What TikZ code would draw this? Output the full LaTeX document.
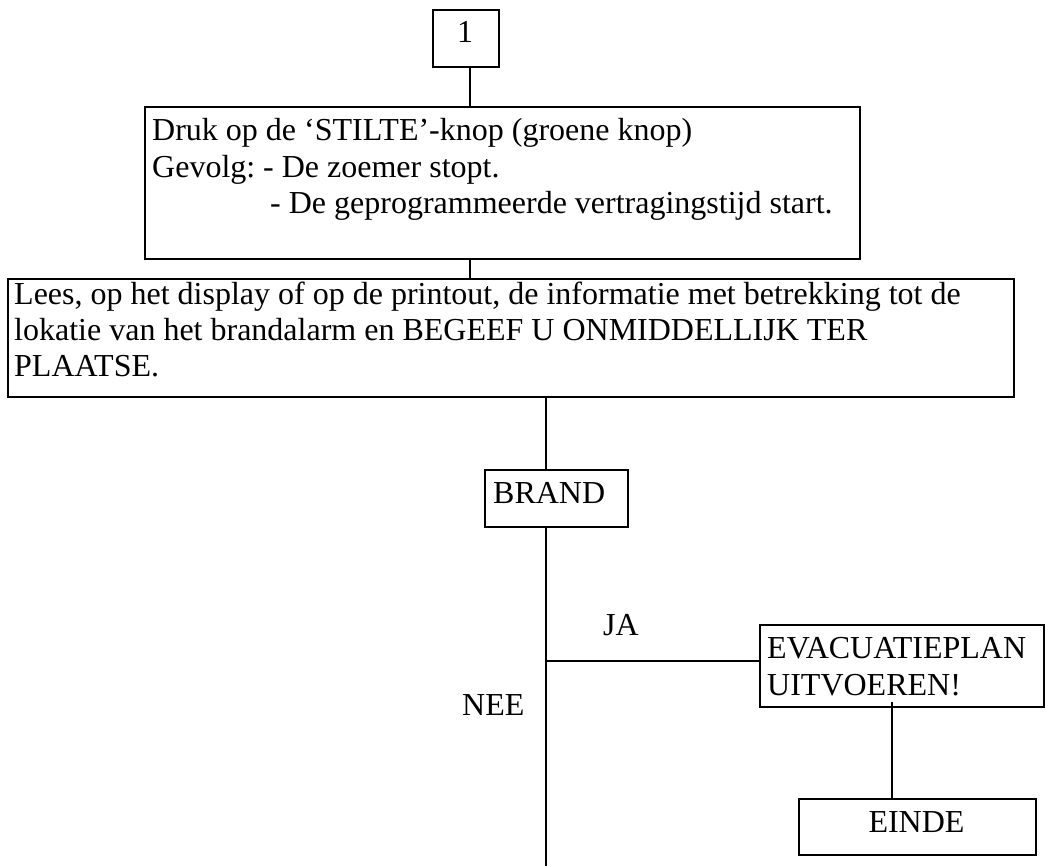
\documentclass[tikz,border=0pt]{standalone}
\usepackage{fontspec}
\setmainfont{Liberation Serif}
\tikzset{
  box/.style={draw, line width=1.8pt, rectangle, inner sep=0pt, anchor=north west},
  conn/.style={line width=1.4pt},
  txt/.style={anchor=base west, inner sep=0pt, font=\fontsize{32}{37}\selectfont},
}
\begin{document}
\begin{tikzpicture}[x=1pt,y=-1pt]
\useasboundingbox[fill=white] (0,0) rectangle (1045,866);
% boxes
\node[box, minimum width=66pt, minimum height=57pt] (b1) at (432,9) {};
\node[box, minimum width=715pt, minimum height=152pt] (b2) at (144,106) {};
\node[box, minimum width=1006pt, minimum height=118pt] (b3) at (7,278) {};
\node[box, minimum width=143pt, minimum height=57pt] (br) at (484,469) {};
\node[box, minimum width=284pt, minimum height=82pt] (ev) at (759,624) {};
\node[box, minimum width=237pt, minimum height=56pt] (ei) at (798,798) {};
% texts
\node[txt, anchor=base] (t1) at (465,43) {1};
\node[txt] (t2a) at (152,141) {Druk op de ‘STILTE’-knop (groene knop)};
\node[txt] (t2b) at (152,177.5) {Gevolg:};
\node[txt] (t2c) at (263,177.5) {- De zoemer stopt.};
\node[txt] (t2d) at (270,214) {- De geprogrammeerde vertragingstijd start.};
\node[txt] (t3a) at (14,305) {Lees, op het display of op de printout, de informatie met betrekking tot de};
\node[txt] (t3b) at (14,341) {lokatie van het brandalarm en BEGEEF U ONMIDDELLIJK TER};
\node[txt] (t3c) at (14,377) {PLAATSE.};
\node[txt] (tbr) at (493,504) {BRAND};
\node[txt] (tja) at (603,635) {JA};
\node[txt] (tnee) at (462,715) {NEE};
\node[txt] (teva) at (767,658) {EVACUATIEPLAN};
\node[txt] (tevb) at (767,695) {UITVOEREN!};
\node[txt, anchor=base] (tei) at (916.5,832) {EINDE};
% connector axes
\coordinate (k1) at (470,0);
\coordinate (k2) at (546,0);
\coordinate (k3) at (892,0);
\coordinate (jn) at (546,661);
\coordinate (bot) at (546,866);
% connectors
\draw[conn] (b1.south -| k1) -- (b2.north -| k1);
\draw[conn] (b2.south -| k1) -- (b3.north -| k1);
\draw[conn] (b3.south -| k2) -- (br.north -| k2);
\draw[conn] (br.south -| k2) -- (bot);
\draw[conn] (jn) -- (jn -| ev.west);
\draw[conn] ([yshift=6pt]k3 |- ev.south) -- (ei.north -| k3);
\end{tikzpicture}
\end{document}
